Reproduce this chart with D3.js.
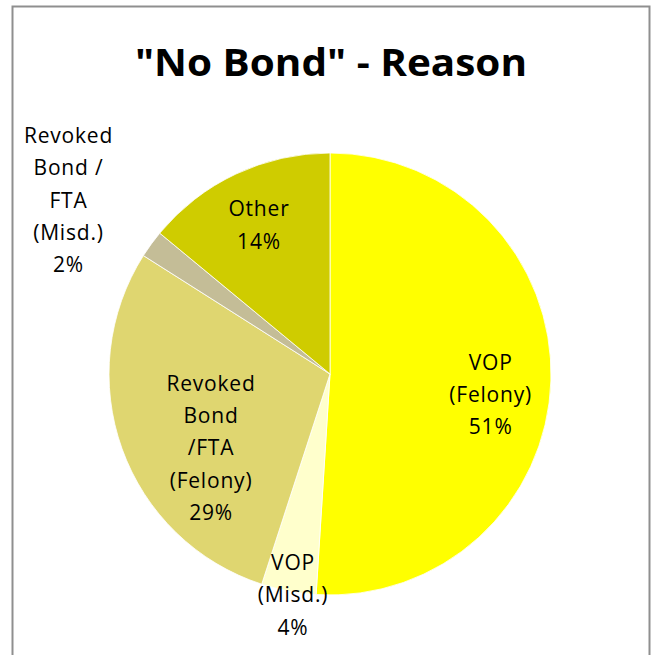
<!DOCTYPE html>
<html lang="en">
<head>
    <meta charset="utf-8">
    <title>"No Bond" - Reason</title>
    <script src="https://d3js.org/d3.v7.min.js"></script>
    <style>
        html, body { margin: 0; padding: 0; background: #fff; }
        text { font-family: "Open Sans", "DejaVu Sans", sans-serif; fill: #000; }
    </style>
</head>
<body>
<div id="my_dataviz"></div>

<script>
// data
var categories = ["VOP (Felony)", "VOP (Misd.)", "Revoked Bond /FTA (Felony)", "Revoked Bond / FTA (Misd.)", "Other"];
var values = [51, 4, 29, 2, 14];
var labelLines = [
    ["VOP", "(Felony)"],
    ["VOP", "(Misd.)"],
    ["Revoked", "Bond", "/FTA", "(Felony)"],
    ["Revoked", "Bond /", "FTA", "(Misd.)"],
    ["Other"]
];
var colors = ["#ffff00", "#ffffcc", "#dfd670", "#c4bd97", "#cfcc00"];

// label placement (radius, angle nudge in degrees) - mimics excel's best fit
var labelPlace = [[162, 5.5], [224, -1.3], [140, -12], [314, -2.4], [165, -0.3]];

var width = 655, height = 655;
var cx = 330, cy = 374, radius = 221;

var svg = d3.select("#my_dataviz")
  .append("svg")
    .attr("width", width)
    .attr("height", height);

// chart frame
svg.append("rect")
    .attr("x", 12.5)
    .attr("y", 6.5)
    .attr("width", 637)
    .attr("height", 700)
    .attr("fill", "none")
    .attr("stroke", "#8f8f8f")
    .attr("stroke-width", 2);

// title
svg.append("text")
    .attr("x", 331)
    .attr("y", 76)
    .attr("text-anchor", "middle")
    .style("font-size", "38px")
    .style("font-weight", "bold")
    .attr("textLength", 392)
    .attr("lengthAdjust", "spacingAndGlyphs")
    .text('"No Bond" - Reason');

var pie = d3.pie().sort(null).value(function(d) { return d; });
var arcs = pie(values);

var arc = d3.arc().innerRadius(0).outerRadius(radius);

var g = svg.append("g")
    .attr("transform", "translate(" + cx + "," + cy + ")");

g.selectAll("path")
  .data(arcs)
  .enter()
  .append("path")
    .attr("d", arc)
    .attr("fill", function(d, i) { return colors[i]; })
    .attr("stroke", "#ffffff")
    .attr("stroke-width", 0.8);

// labels
var lineH = 32.3;
g.selectAll("text.lbl")
  .data(arcs)
  .enter()
  .append("text")
    .attr("class", "lbl")
    .attr("text-anchor", "middle")
    .style("font-size", "21px")
    .style("letter-spacing", "0.8px")
    .each(function(d, i) {
        var mid = (d.startAngle + d.endAngle) / 2 + labelPlace[i][1] * Math.PI / 180;
        var r = labelPlace[i][0];
        var x = r * Math.sin(mid), y = -r * Math.cos(mid);
        var lines = labelLines[i].concat([values[i] + "%"]);
        var t = d3.select(this);
        lines.forEach(function(s, k) {
            t.append("tspan")
              .attr("x", x)
              .attr("y", y + (k - (lines.length - 1) / 2) * lineH + 7.5)
              .text(s);
        });
    });
</script>
</body>
</html>
